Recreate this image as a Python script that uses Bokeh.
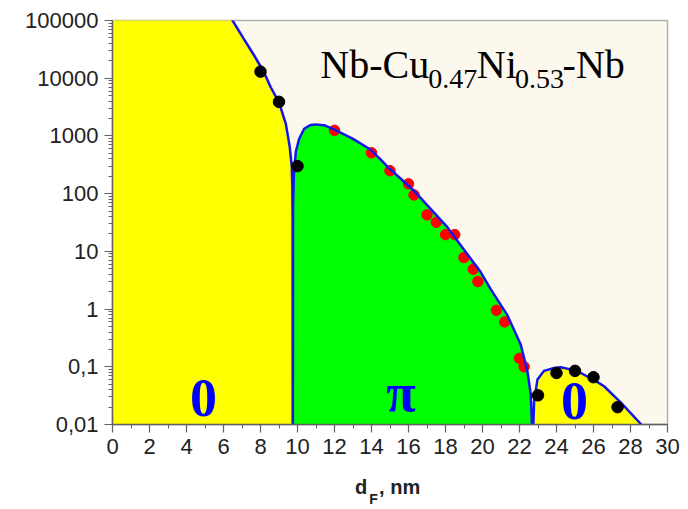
from bokeh.plotting import figure
from bokeh.models import FixedTicker, Label, CustomJSTickFormatter, LinearAxis
from bokeh.embed import file_html
from bokeh.resources import INLINE

# ---------------- data ----------------
# theory curve, "0" state (left lobe)
zero1_x = [0.0, 6.0, 6.49, 7.08, 7.65, 8.16, 8.56, 9.0, 9.37, 9.58, 9.69, 9.72, 9.735, 9.745]
zero1_y = [1e6, 2e5, 1e5, 4.9e4, 2.5e4, 1.32e4, 6.9e3, 3.8e3, 1.62e3, 646, 295, 126, 40, 1e-4]
# theory curve, "pi" state
pi_x = [9.745, 9.76, 9.80, 9.91, 10.09, 10.36, 10.7, 11.0, 11.5, 12.0, 13.0, 13.96, 14.5, 14.95,
        16.3, 18.1, 19.0, 19.9, 20.45, 21.35, 22.07, 22.43, 22.61, 22.66, 22.72]
pi_y = [1e-4, 63, 200, 537, 891, 1334, 1549, 1585, 1514, 1288, 891, 575, 389, 275,
        112, 26.3, 10.7, 4.37, 2.19, 0.776, 0.24, 0.083, 0.033, 0.0126, 1e-4]
# theory curve, second "0" state
zero2_x = [22.72, 22.75, 22.79, 22.97, 23.33, 23.87, 24.23, 24.7, 25.31, 26.0, 26.57, 27.48, 28.56, 29.2]
zero2_y = [1e-4, 0.01, 0.025, 0.060, 0.085, 0.095, 0.098, 0.091, 0.078, 0.060, 0.046, 0.024, 0.0102, 0.005]

# measured points
black_x = [8.0, 9.0, 10.0, 23.0, 24.0, 25.0, 26.0, 27.3]
black_y = [13000, 3900, 300, 0.032, 0.078, 0.085, 0.066, 0.020]
red_x = [12, 14, 15, 16, 16.3, 17, 17.5, 18, 18.5, 19, 19.5, 19.75, 20.75, 21.2, 22.0, 22.25]
red_y = [1250, 510, 250, 148, 95, 43, 32, 19.5, 19.5, 7.8, 4.9, 3.0, 0.95, 0.6, 0.14, 0.10]

# ticks
x_ticks = list(range(0, 31, 2))
x_minor = list(range(1, 30, 2))
y_ticks = [0.01, 0.1, 1, 10, 100, 1000, 10000, 100000]
y_tick_labels = ["0,01", "0,1", "1", "10", "100", "1000", "10000", "100000"]
y_minor = [k * t for t in y_ticks[:-1] for k in range(2, 10)]

# texts
state_labels = ["0", "\u03c0", "0"]
title_parts = ["Nb-Cu", "0.47", "Ni", "0.53", "-Nb"]
xlabel_parts = ["d", ", nm"]   # axis title d_F, nm; the subscript is separate
xlabel_sub = ["F"]

SANS = "Arial"
SERIF = "Times New Roman"

NEAREST = """
let best = 0;
for (let i = 0; i < vals.length; i++) {
  if (Math.abs(f(vals[i]) - f(tick)) < Math.abs(f(vals[best]) - f(tick))) best = i;
}
return labs[best];
"""

def nearest_formatter(vals, labs, log=False):
    fn = "const f = (v) => Math.log10(v);" if log else "const f = (v) => v;"
    return CustomJSTickFormatter(args=dict(vals=vals, labs=labs), code=fn + NEAREST)

# ---------------- figure ----------------
p = figure(width=688, height=509, x_range=(0, 30), y_range=(0.01, 1e5),
           y_axis_type="log", output_backend="svg", toolbar_location=None,
           min_border_left=112, min_border_right=21, min_border_top=20, min_border_bottom=78)
p.background_fill_color = "#FDF8EE"
p.border_fill_color = "white"
p.outline_line_color = "#b0b0b0"
p.outline_line_width = 1.5
p.xgrid.visible = False
p.ygrid.visible = False

floor = 1e-4
p.varea(x=zero1_x, y1=floor, y2=zero1_y, fill_color="#FFFF00")
p.varea(x=pi_x, y1=floor, y2=pi_y, fill_color="#00FF00")
p.varea(x=zero2_x, y1=floor, y2=zero2_y, fill_color="#FFFF00")

p.scatter(red_x, red_y, size=10.5, color="#FF0000")
p.line(zero1_x + pi_x[1:] + zero2_x[1:], zero1_y + pi_y[1:] + zero2_y[1:],
       line_color="#1414F0", line_width=2.5)
p.scatter(black_x, black_y, size=11.5, color="black")

for ax in (p.xaxis[0], p.yaxis[0]):
    ax.axis_line_color = "#606060"
    ax.axis_line_width = 1.5
    ax.major_tick_line_color = "#606060"
    ax.minor_tick_line_color = "#606060"
    ax.major_tick_line_width = 1.2
    ax.major_tick_out = 8
    ax.major_tick_in = 0
    ax.minor_tick_out = 4
    ax.minor_tick_in = 0
    ax.major_label_text_font = SANS
    ax.major_label_text_font_size = "22px"
    ax.major_label_text_color = "#222222"
    ax.major_label_standoff = 6

p.xaxis[0].ticker = FixedTicker(ticks=x_ticks, minor_ticks=x_minor)
p.yaxis.ticker = FixedTicker(ticks=y_ticks, minor_ticks=y_minor)
p.yaxis.formatter = nearest_formatter(y_ticks, y_tick_labels, log=True)


def text_axis(pos, labels, size, standoff):
    a = LinearAxis(ticker=FixedTicker(ticks=pos, minor_ticks=[]),
                   formatter=nearest_formatter(pos, labels))
    a.axis_line_color = None
    a.major_tick_line_color = None
    a.minor_tick_line_color = None
    a.major_tick_out = 0
    a.major_tick_in = 0
    a.major_label_standoff = standoff
    a.major_label_text_font = SANS
    a.major_label_text_font_style = "bold"
    a.major_label_text_font_size = size
    a.major_label_text_color = "#222222"
    p.add_layout(a, "below")
    return a

# axis title "d_F, nm": subscript row first (pushed down), then main row pulled back up
text_axis([14.11], xlabel_sub, "14px", 34)
text_axis([13.44, 15.52], xlabel_parts, "20px", -34)

# state labels (anchor raised to compensate the renderer's baseline offset)
for txt, x, y in zip(state_labels, [4.92, 15.6, 24.97], [0.029, 0.0352, 0.0258]):
    p.add_layout(Label(x=x, y=y, text=txt, text_font=SERIF, text_font_style="bold",
                       text_font_size="54px", text_color="#0000FF", text_align="center",
                       text_baseline="alphabetic"))

# title text with subscripts
t_x = [11.23, 17.07, 19.69, 21.76, 24.33]
t_y = [17400, 9750, 17400, 9750, 17400]
t_size = ["40px", "28px", "40px", "28px", "40px"]
for txt, x, y, s in zip(title_parts, t_x, t_y, t_size):
    p.add_layout(Label(x=x, y=y, text=txt, text_font=SERIF, text_font_size=s,
                       text_color="black", text_align="left", text_baseline="alphabetic"))

open("out.html", "w").write(file_html(p, INLINE))
